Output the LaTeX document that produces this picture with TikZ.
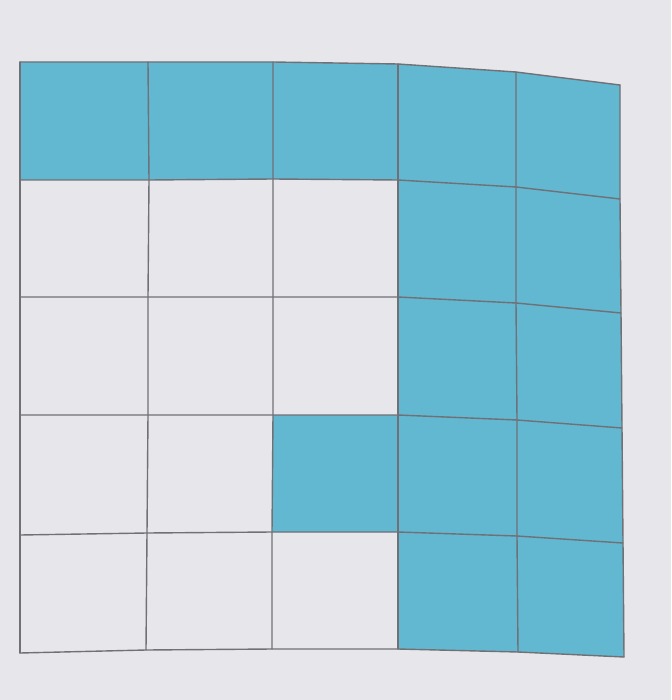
\documentclass[tikz,border=0pt]{standalone}
\definecolor{paper}{RGB}{231,231,235}
\definecolor{cellblue}{RGB}{98,184,208}
\definecolor{gridline}{RGB}{112,112,118}
\tikzset{
  shaded/.style={fill=cellblue, draw=none},
  gridl/.style={draw=gridline, line width=1.4pt, line join=round, line cap=round}
}
\begin{document}
\begin{tikzpicture}[x=1pt,y=-1pt]
\fill[paper] (0,0) rectangle (671,700);
\useasboundingbox (0,0) rectangle (671,700);
% grid points p-i-j (column i, row j)
\coordinate (p-0-0) at (20,62);  \coordinate (p-1-0) at (148,62);  \coordinate (p-2-0) at (273,62);  \coordinate (p-3-0) at (398,64);  \coordinate (p-4-0) at (516,72);  \coordinate (p-5-0) at (620,85);
\coordinate (p-0-1) at (20,180); \coordinate (p-1-1) at (149,180); \coordinate (p-2-1) at (273,179); \coordinate (p-3-1) at (398,180); \coordinate (p-4-1) at (516,187); \coordinate (p-5-1) at (620,199);
\coordinate (p-0-2) at (20,297); \coordinate (p-1-2) at (148,297); \coordinate (p-2-2) at (273,297); \coordinate (p-3-2) at (398,297); \coordinate (p-4-2) at (516,303); \coordinate (p-5-2) at (621,313);
\coordinate (p-0-3) at (20,415); \coordinate (p-1-3) at (148,415); \coordinate (p-2-3) at (273,415); \coordinate (p-3-3) at (398,415); \coordinate (p-4-3) at (517,420); \coordinate (p-5-3) at (622,428);
\coordinate (p-0-4) at (20,535); \coordinate (p-1-4) at (147,533); \coordinate (p-2-4) at (272,532); \coordinate (p-3-4) at (398,532); \coordinate (p-4-4) at (517,536); \coordinate (p-5-4) at (623,543);
\coordinate (p-0-5) at (20,653); \coordinate (p-1-5) at (146,650); \coordinate (p-2-5) at (272,649); \coordinate (p-3-5) at (398,649); \coordinate (p-4-5) at (518,652); \coordinate (p-5-5) at (624,657);
% shaded cells (column, row)
\foreach \i/\j in {0/0,1/0,2/0,3/0,4/0, 3/1,4/1, 3/2,4/2, 2/3,3/3,4/3, 3/4,4/4}{
  \pgfmathtruncatemacro{\ii}{\i+1}
  \pgfmathtruncatemacro{\jj}{\j+1}
  \path[shaded] (p-\i-\j) -- (p-\ii-\j) -- (p-\ii-\jj) -- (p-\i-\jj) -- cycle;
}
% grid lines
\foreach \j in {0,...,5}{
  \draw[gridl] (p-0-\j) -- (p-1-\j) -- (p-2-\j) -- (p-3-\j) -- (p-4-\j) -- (p-5-\j);
}
\foreach \i in {0,...,5}{
  \draw[gridl] (p-\i-0) -- (p-\i-1) -- (p-\i-2) -- (p-\i-3) -- (p-\i-4) -- (p-\i-5);
}
\end{tikzpicture}
\end{document}
